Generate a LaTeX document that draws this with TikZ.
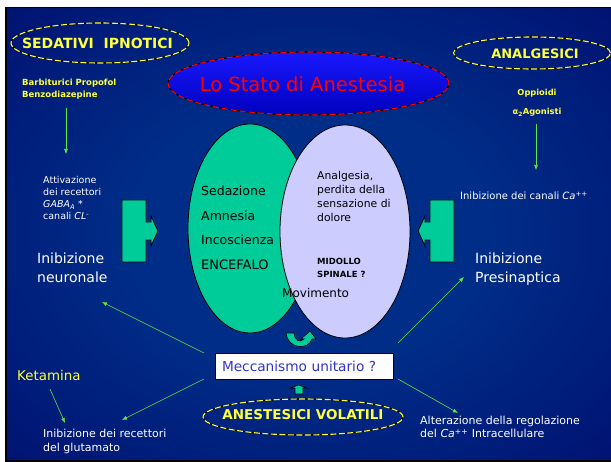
\documentclass[tikz,border=0pt]{standalone}
\usepackage{fontspec}
\setmainfont{DejaVu Sans}
\usetikzlibrary{arrows.meta,shapes.geometric}
\definecolor{bgedge}{RGB}{0,0,100}
\definecolor{bgmid}{RGB}{0,45,135}
\definecolor{ylw}{RGB}{255,255,60}
\definecolor{agreen}{RGB}{90,230,70}
\definecolor{bgreen}{RGB}{0,204,153}
\definecolor{lav}{RGB}{204,204,255}
\definecolor{mblue}{RGB}{51,51,204}
\definecolor{hiblue}{RGB}{25,25,255}
\definecolor{loblue}{RGB}{0,0,190}
\pgfdeclareradialshading{bgshade}{\pgfpoint{0bp}{0bp}}{color(0bp)=(bgmid); color(15bp)=(bgmid); color(50bp)=(bgedge); color(72bp)=(bgedge)}
\newcommand\fsz[1]{\fontsize{#1}{#1}\selectfont}
\begin{document}
\begin{tikzpicture}[x=1pt,y=-1pt,
  ydash/.style={ellipse, inner sep=0pt, draw=black, line width=1.1pt,
    postaction={draw=ylw, line width=1.1pt, dash pattern=on 6pt off 2.5pt}},
  garrow/.style={draw=agreen, line width=0.6pt, -{Latex[length=5pt,width=4pt]}},
  wt/.style={inner sep=0pt, anchor=base west, text=white},
  yt/.style={inner sep=0pt, text=ylw},
  bt/.style={inner sep=0pt, anchor=base west, text=black},
  blockarrow/.style={fill=bgreen, draw=black, line width=0.8pt, line join=miter}]
\useasboundingbox (0,0) rectangle (611,462);
\fill[white] (0,0) rectangle (611,462);
\fill[black] (5,7) rectangle (611,462);
\shade[shading=bgshade] (7,9) rectangle (611,460);

% yellow dashed ellipses
\node[ydash, minimum width=178pt, minimum height=40pt] (sedE) at (100,43) {};
\node[yt, anchor=base, font=\bfseries\fsz{14}] (sedT) at (97.5,49) {SEDATIVI~~IPNOTICI};
\node[ydash, minimum width=157pt, minimum height=32pt] (anaE) at (532,53) {};
\node[yt, anchor=base, font=\bfseries\fsz{13}] (anaT) at (535,59) {ANALGESICI};
\node[ydash, minimum width=200pt, minimum height=36pt] (volE) at (303,417) {};
\node[yt, anchor=base, font=\bfseries\fsz{13.5}] (volT) at (303,420) {ANESTESICI VOLATILI};

% title ellipse
\node[ellipse, inner sep=0pt, minimum width=281pt, minimum height=63pt,
  top color=hiblue, bottom color=loblue, draw=black, line width=1.1pt,
  postaction={draw=red, line width=1.1pt, dash pattern=on 6pt off 3pt}] (titE) at (308.5,83.5) {};
\node[inner sep=0pt, anchor=base, text=red, font=\fsz{19.5}] (titT) at (302.5,92) {Lo Stato di Anestesia};

% drug texts
\node[yt, anchor=base west, font=\bfseries\fsz{8.5}] (barb) at (22,86) {Barbiturici Propofol};
\node[yt, anchor=base west, font=\bfseries\fsz{8.5}] (benz) at (22,98) {Benzodiazepine};
\node[yt, anchor=base, font=\bfseries\fsz{8.3}] (opp) at (537,96) {Oppioidi};
\node[yt, anchor=base, font=\bfseries\fsz{8.3}] (alfa) at (537,115) {α\textsubscript{2}Agonisti};
\node[yt, anchor=base west, font=\fsz{13.4}] (keta) at (17,381) {Ketamina};

% white texts
\node[wt, font=\fsz{9.5}] (att1) at (43,184) {Attivazione};
\node[wt, font=\fsz{9.5}] (att2) at (43,196) {dei recettori};
\node[wt, font=\fsz{9.5}] (att3) at (43,208) {\textit{GABA}\textsubscript{\textit{A}} *};
\node[wt, font=\fsz{9.5}] (att4) at (43,220) {canali \textit{CL}\textsuperscript{-}};
\node[wt, font=\fsz{14}] (neu1) at (37,264) {Inibizione};
\node[wt, font=\fsz{14}] (neu2) at (37,283) {neuronale};
\node[wt, font=\fsz{14}] (pre1) at (475,264) {Inibizione};
\node[wt, font=\fsz{14}] (pre2) at (475,283) {Presinaptica};
\node[wt, font=\fsz{10}] (cana) at (460,200) {Inibizione dei canali \textit{Ca}\textsuperscript{++}};
\node[wt, font=\fsz{11}] (glu1) at (43,438) {Inibizione dei recettori};
\node[wt, font=\fsz{11}] (glu2) at (43,452) {del glutamato};
\node[wt, font=\fsz{11}] (alt1) at (420,425) {Alterazione della regolazione};
\node[wt, font=\fsz{11}] (alt2) at (420,438) {del \textit{Ca}\textsuperscript{++} Intracellulare};

% big ellipses
\node[ellipse, inner sep=0pt, minimum width=124pt, minimum height=209pt, fill=bgreen, draw=black, line width=0.8pt] (encE) at (250,228.5) {};
\node[ellipse, inner sep=0pt, minimum width=130pt, minimum height=213pt, fill=lav, draw=black, line width=0.8pt] (midE) at (345,231.5) {};
\node[bt, font=\fsz{12.5}] (sed) at (201,196) {Sedazione};
\node[bt, font=\fsz{12.5}] (amn) at (201,221) {Amnesia};
\node[bt, font=\fsz{12.5}] (inc) at (201,245) {Incoscienza};
\node[bt, font=\fsz{13}] (enc) at (201,270) {ENCEFALO};
\node[bt, font=\fsz{10.8}] (an1) at (317,180) {Analgesia,};
\node[bt, font=\fsz{10.8}] (an2) at (317,194) {perdita della};
\node[bt, font=\fsz{10.8}] (an3) at (317,208) {sensazione di};
\node[bt, font=\fsz{10.8}] (an4) at (317,222) {dolore};
\node[bt, font=\bfseries\fsz{8.5}] (mid1) at (317,265) {MIDOLLO};
\node[bt, font=\bfseries\fsz{8.5}] (mid2) at (317,278) {SPINALE ?};
\node[bt, font=\fsz{12}] (mov) at (282,298) {Movimento};

% block arrows
\draw[blockarrow] (122,200) -- (146,200) -- (146,222) -- (151,222) -- (151,216) -- (158,231) -- (151,246) -- (151,240) -- (146,240) -- (146,262) -- (122,262) -- cycle;
\draw[blockarrow] (454,200) -- (430,200) -- (430,222) -- (425,222) -- (425,216) -- (418,231) -- (425,246) -- (425,240) -- (430,240) -- (430,262) -- (454,262) -- cycle;
\draw[blockarrow, line width=0.6pt] (286,333) -- (294,333) .. controls (295,341) and (300,343) .. (304,339) -- (301,339) -- (310,331) -- (316,339) -- (312,339) .. controls (309,350) and (288,350) .. (286,333) -- cycle;
\draw[blockarrow, line width=0.6pt] (295,394) -- (295,388) -- (290,388) -- (298.5,385) -- (307,388) -- (303,388) -- (303,394) -- cycle;

% mechanism box
\node[fill=white, draw=black, line width=0.8pt, minimum height=26pt, text width=164pt,
  inner xsep=7pt, inner ysep=0pt, align=left, text=mblue, font=\fsz{13.7}] (mec) at (304,366) {Meccanismo unitario ?};

% connectors
\coordinate (a1s) at (66,108); \coordinate (a1e) at (66,154);
\coordinate (a2s) at (536,124); \coordinate (a2e) at (536,170);
\coordinate (k1) at (50,389); \coordinate (k2) at (65,423);
\coordinate (m1) at (204,353); \coordinate (t1) at (102,302);
\coordinate (m2) at (204,379); \coordinate (t2) at (122,420);
\coordinate (m3) at (398,343); \coordinate (t3) at (464,277);
\coordinate (m4) at (398,379); \coordinate (t4) at (458,413);
\draw[garrow] (a1s) -- (a1e);
\draw[garrow] (a2s) -- (a2e);
\draw[garrow] (k1) -- (k2);
\draw[garrow] (m1) -- (t1);
\draw[garrow] (m2) -- (t2);
\draw[garrow] (m3) -- (t3);
\draw[garrow] (m4) -- (t4);
\end{tikzpicture}
\end{document}
